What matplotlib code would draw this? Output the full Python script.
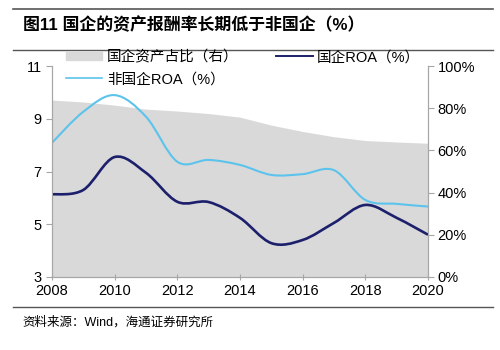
import numpy as np
import matplotlib
matplotlib.use("Agg")
import matplotlib.pyplot as plt
from matplotlib.path import Path
from matplotlib.patches import PathPatch
from matplotlib.lines import Line2D
from matplotlib.patches import Patch

plt.rcParams['font.family'] = ['Liberation Sans', 'Noto Sans CJK SC']

years = [2008, 2009, 2010, 2011, 2012, 2013, 2014, 2015, 2016, 2017, 2018, 2019, 2020]
soe_roa = [6.13, 6.3, 7.55, 6.95, 5.85, 5.84, 5.24, 4.28, 4.4, 5.05, 5.73, 5.24, 4.6]
nonsoe_roa = [8.09, 9.27, 9.9, 9.08, 7.37, 7.44, 7.25, 6.87, 6.9, 7.05, 5.92, 5.77, 5.67]
soe_share = [83.9, 83.0, 81.5, 79.6, 78.7, 77.5, 75.8, 72.0, 69.0, 66.5, 64.7, 64.0, 63.4]
xticks = [2008, 2010, 2012, 2014, 2016, 2018, 2020]

title = "图11 国企的资产报酬率长期低于非国企（%）"
source = "资料来源：Wind，海通证券研究所"
lbl_share = "国企资产占比（右）"
lbl_soe = "国企ROA（%）"
lbl_non = "非国企ROA（%）"

navy = "#1c1f6b"
light = "#5cc3ec"
gray_fill = "#d9d9d9"
spine_c = "#a6a6a6"


def smooth_path(x, y, t=0.5):
    x = np.asarray(x, float); y = np.asarray(y, float)
    n = len(x)
    verts = [(x[0], y[0])]
    codes = [Path.MOVETO]
    for i in range(n - 1):
        x0, y0 = (x[i - 1], y[i - 1]) if i > 0 else (x[i], y[i])
        x3, y3 = (x[i + 2], y[i + 2]) if i + 2 < n else (x[i + 1], y[i + 1])
        x1, y1 = x[i], y[i]
        x2, y2 = x[i + 1], y[i + 1]
        c1 = (x1 + (x2 - x0) * t / 3, y1 + (y2 - y0) * t / 3)
        c2 = (x2 - (x3 - x1) * t / 3, y2 - (y3 - y1) * t / 3)
        verts += [c1, c2, (x2, y2)]
        codes += [Path.CURVE4] * 3
    return Path(verts, codes)


fig = plt.figure(figsize=(5, 3.5), dpi=100)
ax = fig.add_axes([0.104, 0.209, 0.752, 0.602])
ax2 = ax.twinx()
ax.set_zorder(ax2.get_zorder() + 1)
ax.patch.set_visible(False)

ax2.fill_between(years, 0, soe_share, color=gray_fill, lw=0)
ax2.set_ylim(0, 100)
ax2.set_yticks(range(0, 101, 20))
ax2.set_yticklabels([f"{v}%" for v in range(0, 101, 20)])

ax.add_patch(PathPatch(smooth_path(years, nonsoe_roa), fill=False, ec=light, lw=1.5))
ax.add_patch(PathPatch(smooth_path(years, soe_roa), fill=False, ec=navy, lw=1.9))
ax.set_xlim(2008, 2020)
ax.set_ylim(3, 11)
ax.set_yticks([3, 5, 7, 9, 11])
ax.set_xticks(xticks)

for a in (ax, ax2):
    a.spines['top'].set_visible(False)
    for s in ['left', 'right', 'bottom']:
        a.spines[s].set_color(spine_c)
    a.tick_params(labelsize=10.5, colors='black', length=4, width=0.8)
    a.tick_params(axis='both', color=spine_c)
ax.tick_params(axis='x', direction='inout', pad=3)
ax2.tick_params(axis='y', pad=3)

handles = [Patch(color=gray_fill), Line2D([], [], color=light, lw=1.2), Line2D([], [], color=navy, lw=1.4)]
fig.legend(handles, [lbl_share, lbl_non, lbl_soe], ncol=2, loc='upper left',
           bbox_to_anchor=(0.132, 0.857), frameon=False, fontsize=10.5,
           handlelength=2.5, handleheight=0.5, handletextpad=0.3, columnspacing=2.6,
           labelspacing=0.55, borderaxespad=0.0, borderpad=0.0)

fig.text(0.046, 0.928, title, fontsize=12.2, fontweight='bold', va='center')
fig.add_artist(Line2D([0.026, 0.986], [0.975, 0.975], color='#555555', lw=1.2))
fig.add_artist(Line2D([0.026, 0.986], [0.856, 0.856], color='#555555', lw=1.0))
fig.add_artist(Line2D([0.026, 0.986], [0.122, 0.122], color='#555555', lw=1.0))
fig.text(0.044, 0.078, source, fontsize=9, va='center')

fig.savefig("out.png", dpi=100)
